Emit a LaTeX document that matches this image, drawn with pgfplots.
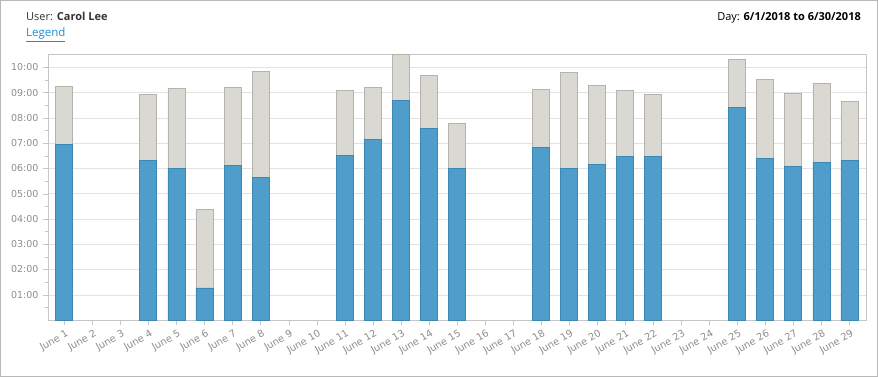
\documentclass[border=0pt]{standalone}
\usepackage{pgfplots}
\pgfplotsset{compat=1.18}
\usepackage{pgfplotstable}
\usepackage{fontspec}
\setmainfont{Open Sans}
\newfontfamily\tickfont{DejaVu Sans}
\definecolor{barblue}{HTML}{4F9DCB}
\definecolor{bluedge}{HTML}{3C87B4}
\definecolor{bargray}{HTML}{D9D8D3}
\definecolor{grayedge}{HTML}{B4B3AD}
\definecolor{axisgray}{HTML}{C6C6C6}
\definecolor{gridgray}{HTML}{E2E2E2}
\definecolor{ticktext}{HTML}{8C8C8C}
\definecolor{linkblue}{HTML}{1A8FD6}
\definecolor{framegray}{HTML}{B8B8B8}
\definecolor{titletext}{HTML}{333333}

\pgfplotstableread{
day blue gray
1  6.95 2.30
4  6.32 2.61
5  6.00 3.17
6  1.27 3.09
7  6.12 3.09
8  5.65 4.19
11 6.51 2.56
12 7.14 2.05
13 8.68 1.82
14 7.58 2.10
15 6.00 1.79
18 6.83 2.30
19 6.00 3.80
20 6.16 3.13
21 6.47 2.62
22 6.47 2.47
25 8.40 1.91
26 6.39 3.13
27 6.08 2.89
28 6.24 3.12
29 6.32 2.34
}\hours

\begin{document}
\begin{tikzpicture}[x=1pt,y=1pt]
\draw[draw=framegray, line width=1pt] (0.5,0.5) rectangle (877.5,376.5);
\node[anchor=base west, inner sep=0pt, font=\fontsize{11}{13}\selectfont, text=titletext] at (26,356.5) {User: \textbf{Carol Lee}};
\node[anchor=base west, inner sep=0pt, font=\fontsize{11.5}{13}\selectfont, text=linkblue] (leg) at (26,340) {Legend};
\draw[linkblue, line width=0.8pt] (leg.south west) ++(0,-1.2) -- ++(38.5,0);
\node[anchor=base east, inner sep=0pt, font=\fontsize{11}{13}\selectfont, text=black] at (861,356.5) {Day: \textbf{6/1/2018 to 6/30/2018}};
\begin{axis}[
  at={(48pt,57pt)}, anchor=south west,
  scale only axis, width=817.7pt, height=265.3pt,
  ybar stacked, bar width=17pt,
  xmin=0.42, xmax=29.58, ymin=0, ymax=10.5,
  axis line style={draw=axisgray},
  xtick={1,...,29},
  xticklabels={June 1,June 2,June 3,June 4,June 5,June 6,June 7,June 8,June 9,June 10,June 11,June 12,June 13,June 14,June 15,June 16,June 17,June 18,June 19,June 20,June 21,June 22,June 23,June 24,June 25,June 26,June 27,June 28,June 29},
  xticklabel style={rotate=30, anchor=north east, font=\tickfont\fontsize{9.8}{10}\selectfont, text=ticktext, inner sep=1pt, yshift=-3pt, xshift=0pt},
  ytick={1,...,10},
  yticklabels={01:00,02:00,03:00,04:00,05:00,06:00,07:00,08:00,09:00,10:00},
  yticklabel style={font=\tickfont\fontsize{9.5}{10}\selectfont, text=ticktext, xshift=-1pt},
  minor ytick={0.5,1.5,...,9.5},
  tick align=outside, tick pos=left,
  major tick length=5pt, minor tick length=3pt,
  tick style={draw=axisgray},
  ymajorgrids, grid style={draw=gridgray},
  every axis plot/.append style={line width=0.8pt},
  clip=false,
]
\addplot[fill=barblue, draw=bluedge] table[x=day,y=blue] {\hours};
\addplot[fill=bargray, draw=grayedge] table[x=day,y=gray] {\hours};
\end{axis}
\end{tikzpicture}
\end{document}
